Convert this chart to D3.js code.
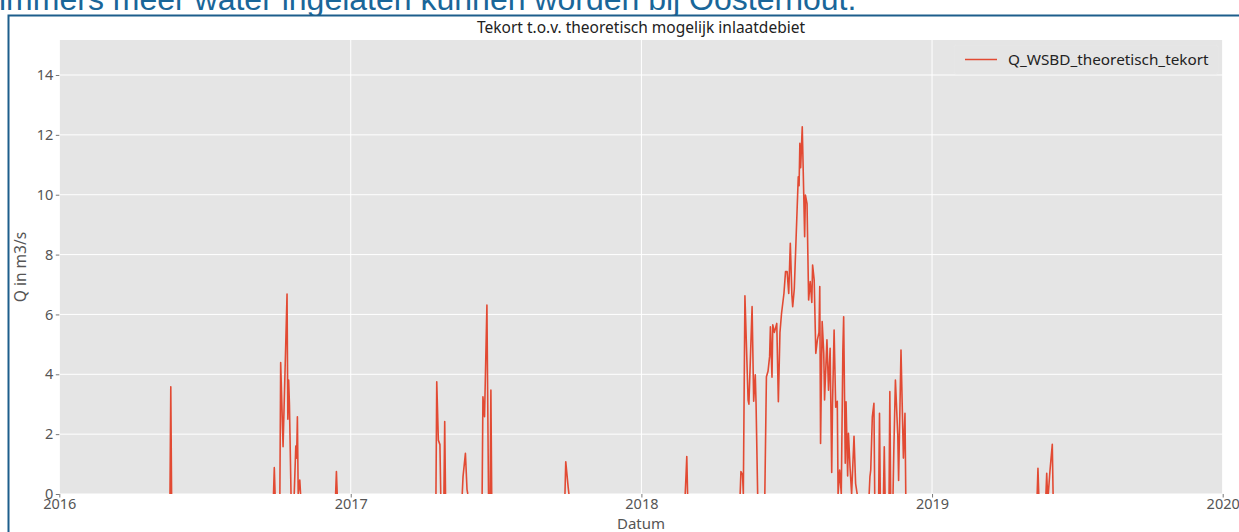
<!DOCTYPE html>
<html>
<head>
<meta charset="utf-8">
<script src="https://cdn.jsdelivr.net/npm/d3@7/dist/d3.min.js"></script>
<style>
  html, body { margin: 0; padding: 0; background: #fff; }
  svg { display: block; }
  text { font-family: "Noto Sans", "Open Sans", sans-serif; }
</style>
</head>
<body>
<svg id="chart" width="1239" height="532"></svg>
<script>
// Daily deficit relative to the theoretical intake capacity (m3/s).
// null separates periods without a deficit.
const datum = [
  "2016-05-19","2016-05-20","2016-05-21", null,
  "2016-09-26","2016-09-27","2016-09-28", null,
  "2016-10-04","2016-10-05","2016-10-08","2016-10-13","2016-10-14","2016-10-15","2016-10-16","2016-10-18", null,
  "2016-10-22","2016-10-24","2016-10-25","2016-10-26","2016-10-27","2016-10-29","2016-10-30", null,
  "2016-12-13","2016-12-14","2016-12-15", null,
  "2017-04-18","2017-04-19","2017-04-21","2017-04-23","2017-04-24", null,
  "2017-04-28","2017-04-29","2017-04-30", null,
  "2017-05-21","2017-05-22","2017-05-25","2017-05-27","2017-05-28", null,
  "2017-06-15","2017-06-16","2017-06-18","2017-06-21","2017-06-23", null,
  "2017-06-25","2017-06-26","2017-06-27", null,
  "2017-09-27","2017-09-28","2017-10-01","2017-10-02", null,
  "2018-02-25","2018-02-26","2018-02-27","2018-02-28", null,
  "2018-05-05","2018-05-06","2018-05-08","2018-05-09","2018-05-11","2018-05-15","2018-05-16","2018-05-20",
  "2018-05-22","2018-05-24","2018-05-25","2018-05-27", null,
  "2018-06-05","2018-06-07","2018-06-09","2018-06-11","2018-06-12","2018-06-14","2018-06-15","2018-06-17",
  "2018-06-20","2018-06-22","2018-06-24","2018-06-26","2018-06-29","2018-07-01","2018-07-03","2018-07-05",
  "2018-07-07","2018-07-09","2018-07-10","2018-07-12","2018-07-17","2018-07-18","2018-07-19","2018-07-20",
  "2018-07-22","2018-07-23","2018-07-25","2018-07-26","2018-07-28","2018-07-30","2018-08-01","2018-08-03",
  "2018-08-04","2018-08-06","2018-08-08","2018-08-10","2018-08-12","2018-08-13","2018-08-14","2018-08-16",
  "2018-08-18","2018-08-19","2018-08-22","2018-08-24","2018-08-26","2018-08-28","2018-08-29","2018-08-31",
  "2018-09-02","2018-09-04","2018-09-05","2018-09-07","2018-09-09","2018-09-11","2018-09-12","2018-09-14",
  "2018-09-15","2018-09-17","2018-09-18","2018-09-20","2018-09-22","2018-09-25","2018-09-27","2018-09-29", null,
  "2018-10-14","2018-10-15","2018-10-16","2018-10-18","2018-10-20","2018-10-21", null,
  "2018-10-26","2018-10-27","2018-10-28", null,
  "2018-11-01","2018-11-02","2018-11-03", null,
  "2018-11-08","2018-11-09","2018-11-10", null,
  "2018-11-13","2018-11-14","2018-11-16","2018-11-19","2018-11-20","2018-11-23","2018-11-26","2018-11-28","2018-11-29", null,
  "2019-05-13","2019-05-14","2019-05-15", null,
  "2019-05-24","2019-05-25","2019-05-26", null,
  "2019-05-27","2019-05-29","2019-06-01","2019-06-02"
];

const tekort = [
  0, 3.58, 0, null,
  0, 0.88, 0, null,
  0, 4.39, 1.58, 6.68, 2.5, 3.81, 3.0, 0, null,
  0, 1.6, 1.2, 2.58, 0, 0.47, 0, null,
  0, 0.75, 0, null,
  0, 3.75, 1.8, 1.65, 0, null,
  0, 2.42, 0, null,
  0, 0.58, 1.36, 0.15, 0, null,
  0, 3.25, 2.58, 6.31, 0, null,
  0, 3.47, 0, null,
  0, 1.08, 0.24, 0, null,
  0, 0.6, 1.25, 0, null,
  0, 0.75, 0.64, 0, 6.62, 3.14, 3.0, 6.26,
  3.1, 3.98, 3.0, 0, null,
  0, 3.92, 4.1, 4.59, 5.59, 3.9, 5.65, 5.4,
  5.7, 3.08, 5.4, 6.04, 6.7, 7.43, 7.43, 6.7,
  8.38, 6.64, 6.26, 6.85, 10.6, 10.3, 11.72, 10.9,
  12.27, 11.07, 8.6, 9.99, 9.7, 6.48, 7.1, 6.4,
  7.65, 7.15, 4.7, 5.15, 5.4, 6.93, 1.69, 5.76,
  4.7, 3.14, 5.15, 3.47, 4.87, 0.72, 3.0, 5.48,
  2.9, 3.1, 0, 0.8, 0, 4.81, 5.92, 1.03,
  3.08, 0.6, 2.03, 0.9, 0, 1.93, 0.35, 0, null,
  0, 0.58, 0.8, 2.58, 3.03, 0, null,
  0, 2.7, 0, null,
  0, 1.58, 0, null,
  0, 3.42, 0, null,
  0, 1.47, 3.81, 1.92, 0.45, 4.81, 1.2, 2.7, 0, null,
  0, 0.86, 0, null,
  0, 0.69, 0, null,
  0, 0.75, 1.66, 0
];

const yTicks = [0, 2, 4, 6, 8, 10, 12, 14];
const xTickYears = ["2016", "2017", "2018", "2019", "2020"];
const yMax = 15.17;

const seriesName = "Q_WSBD_theoretisch_tekort";
const chartTitle = "Tekort t.o.v. theoretisch mogelijk inlaatdebiet";
const xLabel = "Datum";
const yLabel = "Q in m3/s";
const introText = "immers meer water ingelaten kunnen worden bij Oosterhout.";

const parse = d3.timeParse("%Y-%m-%d");
const points = datum.map((d, i) => ({
  date: d ? parse(d) : null,
  value: d ? tekort[i] : null
}));

const svg = d3.select("#chart");

// document text running above the figure and the frame around it
svg.append("text")
  .attr("x", -1).attr("y", 9.5)
  .style("font-family", "'Liberation Sans', Arial, sans-serif")
  .style("font-size", "32px")
  .attr("fill", "#1a6699")
  .text(introText);

svg.append("rect")
  .attr("x", 8.5).attr("y", 15.5)
  .attr("width", 1260).attr("height", 560)
  .attr("fill", "#fff")
  .attr("stroke", "#1d5e8c")
  .attr("stroke-width", 2);

const plot = { left: 59.3, right: 1222.7, top: 40, bottom: 494 };

const x = d3.scaleTime()
  .domain([parse("2016-01-01"), parse("2020-01-01")])
  .range([plot.left, plot.right]);
const y = d3.scaleLinear()
  .domain([0, yMax])
  .range([plot.bottom, plot.top]);

// panel
svg.append("rect")
  .attr("x", plot.left).attr("y", plot.top)
  .attr("width", plot.right - plot.left).attr("height", plot.bottom - plot.top)
  .attr("fill", "#e5e5e5");

const xTicks = xTickYears.map(s => parse(s + "-01-01"));

// grid
svg.append("g").selectAll("line").data(yTicks).join("line")
  .attr("x1", plot.left).attr("x2", plot.right)
  .attr("y1", d => y(d)).attr("y2", d => y(d))
  .attr("stroke", "#fff").attr("stroke-width", 1);
svg.append("g").selectAll("line").data(xTicks).join("line")
  .attr("x1", d => x(d)).attr("x2", d => x(d))
  .attr("y1", plot.top).attr("y2", plot.bottom)
  .attr("stroke", "#fff").attr("stroke-width", 1);

// axes
const xAxis = svg.append("g")
  .attr("transform", `translate(0,${plot.bottom})`)
  .call(d3.axisBottom(x).tickValues(xTicks).tickFormat(d3.timeFormat("%Y")).tickSize(3.5).tickSizeOuter(0));
const yAxis = svg.append("g")
  .attr("transform", `translate(${plot.left},0)`)
  .call(d3.axisLeft(y).tickValues(yTicks).tickSize(3.5).tickSizeOuter(0));

[xAxis, yAxis].forEach(g => {
  g.select(".domain").remove();
  g.selectAll(".tick line").attr("stroke", "#555").attr("stroke-width", 0.8);
  g.selectAll(".tick text")
    .attr("fill", "#555")
    .style("font-family", "'Noto Sans', sans-serif")
    .style("font-size", "14.5px");
});
xAxis.selectAll(".tick text").attr("dy", "0.72em").attr("y", 5);
yAxis.selectAll(".tick text").attr("x", -6);

// series
svg.append("clipPath").attr("id", "panel-clip")
  .append("rect")
  .attr("x", plot.left).attr("y", plot.top)
  .attr("width", plot.right - plot.left).attr("height", plot.bottom - plot.top);

const line = d3.line()
  .defined(d => d.value !== null)
  .x(d => x(d.date))
  .y(d => y(d.value));

svg.append("path")
  .datum(points)
  .attr("clip-path", "url(#panel-clip)")
  .attr("fill", "none")
  .attr("stroke", "#E24A33")
  .attr("stroke-width", 1.6)
  .attr("stroke-linejoin", "round")
  .attr("d", line);

// title and axis labels
svg.append("text")
  .attr("x", (plot.left + plot.right) / 2).attr("y", 33)
  .attr("text-anchor", "middle")
  .attr("fill", "#222")
  .style("font-size", "15.5px")
  .text(chartTitle);

svg.append("text")
  .attr("x", (plot.left + plot.right) / 2).attr("y", 529)
  .attr("text-anchor", "middle")
  .attr("fill", "#555")
  .style("font-size", "15px")
  .text(xLabel);

svg.append("text")
  .attr("transform", `translate(26,${(plot.top + plot.bottom) / 2}) rotate(-90)`)
  .attr("text-anchor", "middle")
  .attr("fill", "#555")
  .style("font-size", "15.5px")
  .text(yLabel);

// legend
const legend = svg.append("g");
legend.append("rect")
  .attr("x", 954).attr("y", 45).attr("width", 264).attr("height", 29)
  .attr("rx", 2)
  .attr("fill", "#e5e5e5").attr("fill-opacity", 0.8)
  .attr("stroke", "#e7e7e7").attr("stroke-opacity", 0.8);
legend.append("line")
  .attr("x1", 965).attr("x2", 997).attr("y1", 59.5).attr("y2", 59.5)
  .attr("stroke", "#E24A33").attr("stroke-width", 1.5);
legend.append("text")
  .attr("x", 1008).attr("y", 65)
  .attr("fill", "#222")
  .style("font-size", "15.3px")
  .text(seriesName);
</script>
</body>
</html>
